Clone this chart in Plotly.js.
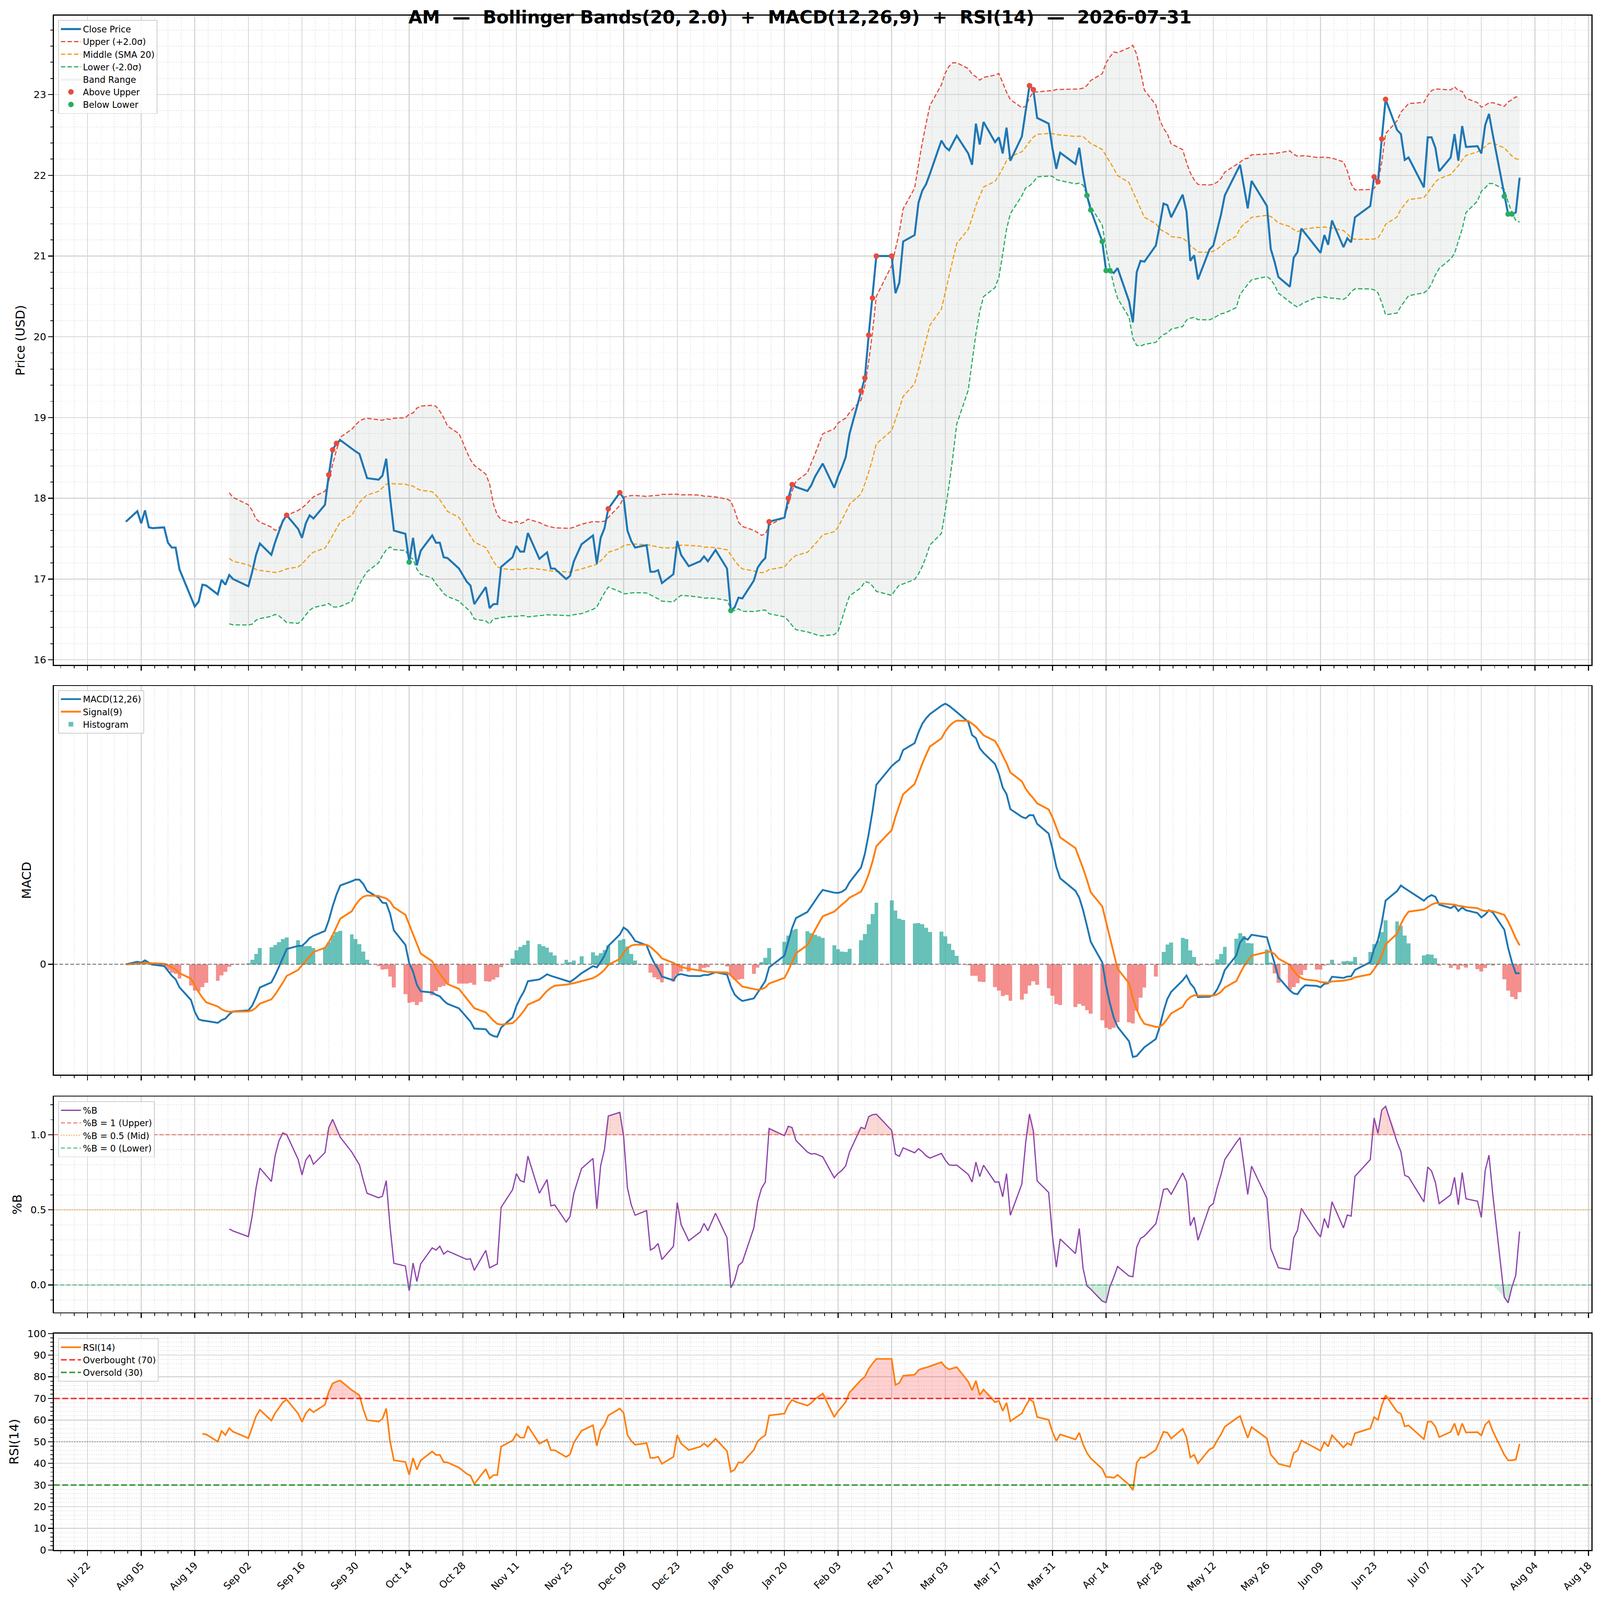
<!DOCTYPE html>
<html>
<head>
<meta charset="utf-8">
<script src="https://cdn.plot.ly/plotly-3.0.1.min.js"></script>
<style>html, body { margin: 0; padding: 0; background: #fff; overflow: hidden; }</style>
</head>
<body>
<div id="chart"></div>
<script>
'use strict';

// trading days shown on the chart (NYSE calendar, Aug 2025 - Jul 2026)
const dates = [
	'2025-08-01','2025-08-04','2025-08-05','2025-08-06','2025-08-07','2025-08-08','2025-08-11','2025-08-12','2025-08-13','2025-08-14','2025-08-15','2025-08-18','2025-08-19','2025-08-20','2025-08-21','2025-08-22','2025-08-25','2025-08-26','2025-08-27','2025-08-28','2025-08-29',
	'2025-09-02','2025-09-03','2025-09-04','2025-09-05','2025-09-08','2025-09-09','2025-09-10','2025-09-11','2025-09-12','2025-09-15','2025-09-16','2025-09-17','2025-09-18','2025-09-19','2025-09-22','2025-09-23','2025-09-24','2025-09-25','2025-09-26','2025-09-29','2025-09-30',
	'2025-10-01','2025-10-02','2025-10-03','2025-10-06','2025-10-07','2025-10-08','2025-10-09','2025-10-10','2025-10-13','2025-10-14','2025-10-15','2025-10-16','2025-10-17','2025-10-20','2025-10-21','2025-10-22','2025-10-23','2025-10-24','2025-10-27','2025-10-28','2025-10-29','2025-10-30','2025-10-31',
	'2025-11-03','2025-11-04','2025-11-05','2025-11-06','2025-11-07','2025-11-10','2025-11-11','2025-11-12','2025-11-13','2025-11-14','2025-11-17','2025-11-18','2025-11-19','2025-11-20','2025-11-21','2025-11-24','2025-11-25','2025-11-26','2025-11-28',
	'2025-12-01','2025-12-02','2025-12-03','2025-12-04','2025-12-05','2025-12-08','2025-12-09','2025-12-10','2025-12-11','2025-12-12','2025-12-15','2025-12-16','2025-12-17','2025-12-18','2025-12-19','2025-12-22','2025-12-23','2025-12-24','2025-12-26','2025-12-29','2025-12-30','2025-12-31',
	'2026-01-02','2026-01-05','2026-01-06','2026-01-07','2026-01-08','2026-01-09','2026-01-12','2026-01-13','2026-01-14','2026-01-15','2026-01-16','2026-01-20','2026-01-21','2026-01-22','2026-01-23','2026-01-26','2026-01-27','2026-01-28','2026-01-29','2026-01-30',
	'2026-02-02','2026-02-03','2026-02-04','2026-02-05','2026-02-06','2026-02-09','2026-02-10','2026-02-11','2026-02-12','2026-02-13','2026-02-17','2026-02-18','2026-02-19','2026-02-20','2026-02-23','2026-02-24','2026-02-25','2026-02-26','2026-02-27',
	'2026-03-02','2026-03-03','2026-03-04','2026-03-05','2026-03-06','2026-03-09','2026-03-10','2026-03-11','2026-03-12','2026-03-13','2026-03-16','2026-03-17','2026-03-18','2026-03-19','2026-03-20','2026-03-23','2026-03-24','2026-03-25','2026-03-26','2026-03-27','2026-03-30','2026-03-31',
	'2026-04-01','2026-04-02','2026-04-06','2026-04-07','2026-04-08','2026-04-09','2026-04-10','2026-04-13','2026-04-14','2026-04-15','2026-04-16','2026-04-17','2026-04-20','2026-04-21','2026-04-22','2026-04-23','2026-04-24','2026-04-27','2026-04-28','2026-04-29','2026-04-30',
	'2026-05-01','2026-05-04','2026-05-05','2026-05-06','2026-05-07','2026-05-08','2026-05-11','2026-05-12','2026-05-13','2026-05-14','2026-05-15','2026-05-18','2026-05-19','2026-05-20','2026-05-21','2026-05-22','2026-05-26','2026-05-27','2026-05-28','2026-05-29',
	'2026-06-01','2026-06-02','2026-06-03','2026-06-04','2026-06-05','2026-06-08','2026-06-09','2026-06-10','2026-06-11','2026-06-12','2026-06-15','2026-06-16','2026-06-17','2026-06-18','2026-06-22','2026-06-23','2026-06-24','2026-06-25','2026-06-26','2026-06-29','2026-06-30',
	'2026-07-01','2026-07-02','2026-07-06','2026-07-07','2026-07-08','2026-07-09','2026-07-10','2026-07-13','2026-07-14','2026-07-15','2026-07-16','2026-07-17','2026-07-20','2026-07-21','2026-07-22','2026-07-23','2026-07-24','2026-07-27','2026-07-28','2026-07-29','2026-07-30','2026-07-31'
];

// close prices
const close = [
	17.71,17.84,17.69,17.85,17.64,17.63,17.64,17.45,17.39,17.39,17.12,16.78,16.66,16.72,16.93,16.92,16.81,16.99,16.93,17.05,17.00,
	16.91,17.09,17.30,17.44,17.30,17.46,17.59,17.72,17.79,17.62,17.51,17.69,17.79,17.75,17.92,18.29,18.60,18.68,18.72,18.61,18.58,
	18.55,18.39,18.25,18.23,18.28,18.49,18.01,17.60,17.56,17.21,17.51,17.17,17.35,17.54,17.45,17.45,17.27,17.26,17.13,17.05,16.97,16.92,16.69,
	16.90,16.64,16.69,16.69,17.15,17.27,17.41,17.34,17.34,17.57,17.25,17.29,17.33,17.13,17.13,17.00,17.04,17.22,17.43,
	17.54,17.19,17.51,17.63,17.87,18.07,18.00,17.60,17.47,17.39,17.42,17.09,17.09,17.11,16.95,17.06,17.47,17.30,17.16,17.22,17.28,17.22,
	17.36,17.13,16.61,16.65,16.77,16.76,16.98,17.14,17.21,17.26,17.71,17.76,18.00,18.17,18.14,18.09,18.16,18.27,18.35,18.43,
	18.13,18.27,18.38,18.51,18.80,19.33,19.49,20.02,20.48,21.00,21.00,20.54,20.67,21.18,21.26,21.66,21.81,21.89,22.02,
	22.43,22.35,22.31,22.40,22.49,22.27,22.13,22.64,22.38,22.66,22.41,22.47,22.27,22.59,22.18,22.48,22.80,23.11,23.06,22.71,22.64,22.33,
	22.08,22.28,22.14,22.34,22.01,21.75,21.57,21.18,20.82,20.82,20.79,20.85,20.44,20.18,20.80,20.94,20.93,21.13,21.38,21.65,21.63,
	21.48,21.76,21.55,20.94,21.01,20.71,21.08,21.13,21.33,21.51,21.75,22.04,22.13,21.86,21.59,21.93,21.62,21.09,20.93,20.74,
	20.62,20.98,21.05,21.34,21.28,21.10,21.04,21.26,21.14,21.44,21.11,21.22,21.17,21.48,21.62,21.98,21.92,22.45,22.94,22.56,22.51,
	22.19,22.22,21.85,22.47,22.47,22.34,22.05,22.22,22.51,22.18,22.61,22.35,22.36,22.27,22.62,22.76,22.50,21.74,21.52,21.52,21.54,21.97
];

// days flagged with dots on the price panel
const aboveUpperDates = ['2025-09-12','2025-09-23','2025-09-24','2025-09-25','2025-12-05','2025-12-08','2026-01-16','2026-01-21','2026-01-22',
	'2026-02-09','2026-02-10','2026-02-11','2026-02-12','2026-02-13','2026-02-17','2026-03-25','2026-03-26',
	'2026-06-23','2026-06-24','2026-06-25','2026-06-26'];
const belowLowerDates = ['2025-10-14','2026-01-06','2026-04-09','2026-04-10','2026-04-13','2026-04-14','2026-04-15',
	'2026-07-27','2026-07-28','2026-07-29'];

// indicator settings, as named in the chart title
const BB_N = 20, BB_K = 2.0, FAST = 12, SLOW = 26, SIG = 9, RSI_N = 14;

const DAY = 86400000;
const FONT = 'DejaVu Sans';
const xRange = ['2025-07-13 05:00', '2026-08-18 18:00'];

// the chart was laid out for 4378 x 4322; fit it to whatever the window really is
const W = window.innerWidth || 4378, H = window.innerHeight || 4322;
const sx = W / 4378, sy = H / 4322, s = Math.min(sx, sy);
function px(v) { return v * s; }
function dash(a, b) { return px(a).toFixed(1) + 'px,' + px(b).toFixed(1) + 'px'; }

function ema(values, span)
{
	const a = 2 / (span + 1);
	const out = [values[0]];
	for (let i = 1; i < values.length; i++) {
		out.push(a * values[i] + (1 - a) * out[i - 1]);
	}
	return out;
}

function bollinger(values, n, k)
{
	const mid = [], up = [], lo = [];
	for (let i = n - 1; i < values.length; i++) {
		const win = values.slice(i - n + 1, i + 1);
		const m = win.reduce((t, v) => t + v, 0) / n;
		const sd = Math.sqrt(win.reduce((t, v) => t + (v - m) * (v - m), 0) / (n - 1));
		mid.push(m);
		up.push(m + k * sd);
		lo.push(m - k * sd);
	}
	return {mid: mid, up: up, lo: lo};
}

// Wilder style smoothing (alpha = 1/n), first value after n changes
function rsi(values, n)
{
	const out = [];
	let g = 0, l = 0;
	for (let i = 1; i < values.length; i++) {
		const d = values[i] - values[i - 1];
		const gain = Math.max(d, 0), loss = Math.max(-d, 0);
		if (i === 1) { g = gain; l = loss; }
		else { g = g + (gain - g) / n; l = l + (loss - l) / n; }
		if (i >= n) out.push(l === 0 ? 100 : 100 - 100 / (1 + g / l));
	}
	return out;
}

const bb = bollinger(close, BB_N, BB_K);
const bbDates = dates.slice(BB_N - 1);
const bbClose = close.slice(BB_N - 1);
const pctB = bbClose.map((c, i) => (c - bb.lo[i]) / (bb.up[i] - bb.lo[i]));

const emaFast = ema(close, FAST), emaSlow = ema(close, SLOW);
const macd = emaFast.map((v, i) => v - emaSlow[i]);
const signal = ema(macd, SIG);
const hist = macd.map((v, i) => v - signal[i]);

const rsiVals = rsi(close, RSI_N);
const rsiDates = dates.slice(RSI_N);

function closeOn(list) { return list.map(d => close[dates.indexOf(d)]); }

const traces = [];

// ---- price panel
traces.push({x: bbDates, y: bb.lo, xaxis: 'x', yaxis: 'y', mode: 'lines', line: {width: 0}, showlegend: false, hoverinfo: 'skip'});
traces.push({x: bbDates, y: bb.up, xaxis: 'x', yaxis: 'y', mode: 'lines', line: {width: 0}, fill: 'tonexty',
	fillcolor: 'rgba(149,165,166,0.13)', name: 'Band Range', legendrank: 5});
traces.push({x: bbDates, y: bb.up, xaxis: 'x', yaxis: 'y', mode: 'lines', name: 'Upper (+2.0\u03c3)', legendrank: 2,
	line: {color: '#e74c3c', width: px(3.2), dash: dash(12, 6)}});
traces.push({x: bbDates, y: bb.mid, xaxis: 'x', yaxis: 'y', mode: 'lines', name: 'Middle (SMA 20)', legendrank: 3,
	line: {color: '#f39c12', width: px(3.2), dash: dash(12, 6)}});
traces.push({x: bbDates, y: bb.lo, xaxis: 'x', yaxis: 'y', mode: 'lines', name: 'Lower (-2.0\u03c3)', legendrank: 4,
	line: {color: '#27ae60', width: px(3.2), dash: dash(12, 6)}});
traces.push({x: dates, y: close, xaxis: 'x', yaxis: 'y', mode: 'lines', name: 'Close Price', legendrank: 1,
	line: {color: '#1f77b4', width: px(5.5)}});
traces.push({x: aboveUpperDates, y: closeOn(aboveUpperDates), xaxis: 'x', yaxis: 'y', mode: 'markers', name: 'Above Upper', legendrank: 6,
	marker: {color: '#e74c3c', size: px(15)}});
traces.push({x: belowLowerDates, y: closeOn(belowLowerDates), xaxis: 'x', yaxis: 'y', mode: 'markers', name: 'Below Lower', legendrank: 7,
	marker: {color: '#27ae60', size: px(15)}});

// ---- MACD panel
traces.push({type: 'bar', x: dates, y: hist.map(v => v >= 0 ? v : null), xaxis: 'x2', yaxis: 'y2', width: DAY,
	marker: {color: 'rgba(38,166,154,0.7)', line: {width: 0}}, name: 'Histogram', legend: 'legend2', legendrank: 3});
traces.push({type: 'bar', x: dates, y: hist.map(v => v < 0 ? v : null), xaxis: 'x2', yaxis: 'y2', width: DAY,
	marker: {color: 'rgba(239,83,80,0.65)', line: {width: 0}}, showlegend: false, legend: 'legend2'});
traces.push({x: dates, y: macd, xaxis: 'x2', yaxis: 'y2', mode: 'lines', name: 'MACD(12,26)', legend: 'legend2', legendrank: 1,
	line: {color: '#1f77b4', width: px(5)}});
traces.push({x: dates, y: signal, xaxis: 'x2', yaxis: 'y2', mode: 'lines', name: 'Signal(9)', legend: 'legend2', legendrank: 2,
	line: {color: '#ff7f0e', width: px(5)}});

// ---- %B panel
traces.push({x: bbDates, y: pctB.map(() => 1), xaxis: 'x3', yaxis: 'y3', mode: 'lines', line: {width: 0}, showlegend: false, hoverinfo: 'skip'});
traces.push({x: bbDates, y: pctB.map(v => Math.max(v, 1)), xaxis: 'x3', yaxis: 'y3', mode: 'lines', line: {width: 0},
	fill: 'tonexty', fillcolor: 'rgba(231,76,60,0.22)', showlegend: false, hoverinfo: 'skip'});
traces.push({x: bbDates, y: pctB.map(() => 0), xaxis: 'x3', yaxis: 'y3', mode: 'lines', line: {width: 0}, showlegend: false, hoverinfo: 'skip'});
traces.push({x: bbDates, y: pctB.map(v => Math.min(v, 0)), xaxis: 'x3', yaxis: 'y3', mode: 'lines', line: {width: 0},
	fill: 'tonexty', fillcolor: 'rgba(39,174,96,0.22)', showlegend: false, hoverinfo: 'skip'});
traces.push({x: bbDates, y: pctB, xaxis: 'x3', yaxis: 'y3', mode: 'lines', name: '%B', legend: 'legend3', legendrank: 1,
	line: {color: '#8e44ad', width: px(3.4)}});

// ---- RSI panel
traces.push({x: rsiDates, y: rsiVals.map(() => 70), xaxis: 'x4', yaxis: 'y4', mode: 'lines', line: {width: 0}, showlegend: false, hoverinfo: 'skip'});
traces.push({x: rsiDates, y: rsiVals.map(v => Math.max(v, 70)), xaxis: 'x4', yaxis: 'y4', mode: 'lines', line: {width: 0},
	fill: 'tonexty', fillcolor: 'rgba(255,0,0,0.18)', showlegend: false, hoverinfo: 'skip'});
traces.push({x: rsiDates, y: rsiVals.map(() => 30), xaxis: 'x4', yaxis: 'y4', mode: 'lines', line: {width: 0}, showlegend: false, hoverinfo: 'skip'});
traces.push({x: rsiDates, y: rsiVals.map(v => Math.min(v, 30)), xaxis: 'x4', yaxis: 'y4', mode: 'lines', line: {width: 0},
	fill: 'tonexty', fillcolor: 'rgba(0,160,0,0.2)', showlegend: false, hoverinfo: 'skip'});
traces.push({x: rsiDates, y: rsiVals, xaxis: 'x4', yaxis: 'y4', mode: 'lines', name: 'RSI(14)', legend: 'legend4', legendrank: 1,
	line: {color: '#ff7f0e', width: px(4.4)}});

// matplotlib-like autoscale for the MACD panel
const macdAll = macd.concat(signal, hist, [0]);
const mMin = Math.min.apply(null, macdAll), mMax = Math.max.apply(null, macdAll);
const mPad = (mMax - mMin) * 0.05;

// reference lines: drawn on top so the grid does not hide them
function hline(yref, xref, y, color, dashStyle, width, extra)
{
	return Object.assign({type: 'line', xref: xref + ' domain', yref: yref, x0: 0, x1: 1, y0: y, y1: y, layer: 'above',
		line: {color: color, width: px(width), dash: dashStyle}}, extra || {});
}

function xAxis(anchor, labels)
{
	const ax = {
		type: 'date', range: xRange, anchor: anchor,
		tick0: '2025-07-22', dtick: 14 * DAY, tickformat: '%b %d', showticklabels: labels, tickangle: -45,
		tickfont: {size: px(27), color: '#000'}, ticks: 'outside', ticklen: px(13), tickwidth: px(2.5), tickcolor: '#000',
		showline: true, mirror: true, linecolor: '#000', linewidth: px(2.7), zeroline: false,
		showgrid: true, gridcolor: '#d6d6d6', gridwidth: px(2.5),
		minor: {tick0: '2025-07-22', dtick: 3.5 * DAY, ticks: 'outside', ticklen: px(7), tickwidth: px(2), tickcolor: '#000',
			showgrid: true, gridcolor: '#e6e6e6', gridwidth: px(2), griddash: 'dot'}
	};
	if (anchor !== 'y') ax.matches = 'x';
	return ax;
}

function yAxis(domain, range, title, extra)
{
	return Object.assign({
		domain: domain, range: range, title: {text: title, font: {size: px(34), color: '#000'}, standoff: px(14)},
		tickfont: {size: px(27), color: '#000'}, ticks: 'outside', ticklen: px(13), tickwidth: px(2.5), tickcolor: '#000',
		showline: true, mirror: true, linecolor: '#000', linewidth: px(2.7), zeroline: false,
		showgrid: true, gridcolor: '#d6d6d6', gridwidth: px(2.5)
	}, extra);
}

function yMinor(step)
{
	return {dtick: step, ticks: 'outside', ticklen: px(7), tickwidth: px(2), tickcolor: '#000',
		showgrid: true, gridcolor: '#e6e6e6', gridwidth: px(2), griddash: 'dot'};
}

function legendBox(y)
{
	return {x: 0.0028, y: y, xref: 'paper', yref: 'paper', xanchor: 'left', yanchor: 'top', traceorder: 'normal',
		bgcolor: 'rgba(255,255,255,0.85)', bordercolor: '#cccccc', borderwidth: px(2),
		font: {size: px(24), color: '#000'}, itemwidth: Math.max(30, px(55)), tracegroupgap: 0};
}

const layout = {
	width: W, height: H,
	margin: {l: 147 * sx, r: 23 * sx, t: 42 * sy, b: 135 * sy, autoexpand: false},
	paper_bgcolor: '#fff', plot_bgcolor: '#fff',
	font: {family: FONT, color: '#000'},
	showlegend: true, barmode: 'overlay', bargap: 0,
	title: {text: '<b>AM \u00a0\u2014\u00a0 Bollinger Bands(20, 2.0) \u00a0+\u00a0 MACD(12,26,9) \u00a0+\u00a0 RSI(14) \u00a0\u2014\u00a0 2026-07-31</b>',
		x: 0.5, xref: 'container', xanchor: 'center', y: 1 - 46 / 4322, yref: 'container', yanchor: 'middle',
		font: {size: px(49), color: '#000'}},
	xaxis: xAxis('y', false),
	xaxis2: xAxis('y2', false),
	xaxis3: xAxis('y3', false),
	xaxis4: xAxis('y4', true),
	yaxis: yAxis([0.5768, 1], [15.936, 23.977], 'Price (USD)', {tick0: 16, dtick: 1, minor: yMinor(0.2)}),
	yaxis2: yAxis([0.3098, 0.5631], [mMin - mPad, mMax + mPad], 'MACD', {tickvals: [0], ticktext: ['0'], showgrid: false}),
	yaxis3: yAxis([0.1549, 0.2955], [-0.182, 1.254], '%B', {tickvals: [0, 0.5, 1], tickformat: '.1f', minor: yMinor(0.1)}),
	yaxis4: yAxis([0, 0.1411], [0, 100], 'RSI(14)', {tick0: 0, dtick: 10, minor: yMinor(2)}),
	legend: legendBox(0.9971),
	legend2: legendBox(0.5604),
	legend3: legendBox(0.2924),
	legend4: legendBox(0.138),
	shapes: [
		hline('y2', 'x2', 0, 'rgba(110,110,110,0.9)', dash(10, 5), 2.5),
		hline('y3', 'x3', 1, 'rgba(231,76,60,0.7)', dash(11, 6), 3,
			{showlegend: true, name: '%B = 1 (Upper)', legend: 'legend3', legendrank: 2}),
		hline('y3', 'x3', 0.5, 'rgba(243,156,18,0.7)', dash(3, 4), 3,
			{showlegend: true, name: '%B = 0.5 (Mid)', legend: 'legend3', legendrank: 3}),
		hline('y3', 'x3', 0, 'rgba(39,174,96,0.7)', dash(11, 6), 3,
			{showlegend: true, name: '%B = 0 (Lower)', legend: 'legend3', legendrank: 4}),
		hline('y4', 'x4', 70, 'rgba(255,0,0,0.8)', dash(16, 7), 4,
			{showlegend: true, name: 'Overbought (70)', legend: 'legend4', legendrank: 2}),
		hline('y4', 'x4', 30, 'rgba(0,128,0,0.8)', dash(16, 7), 4,
			{showlegend: true, name: 'Oversold (30)', legend: 'legend4', legendrank: 3}),
		hline('y4', 'x4', 50, 'rgba(128,128,128,0.8)', dash(3, 4), 3)
	]
};

const chartDiv = document.getElementById('chart');
chartDiv.style.width = W + 'px';
chartDiv.style.height = H + 'px';
Plotly.newPlot(chartDiv, traces, layout, {displayModeBar: false, staticPlot: true});
</script>
</body>
</html>
